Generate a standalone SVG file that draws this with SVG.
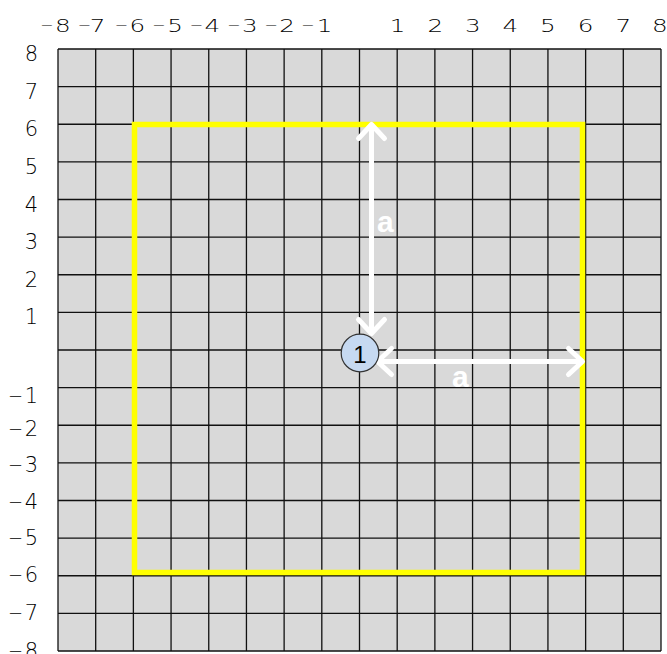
<svg xmlns="http://www.w3.org/2000/svg" width="667" height="654" viewBox="0 0 667 654">
<style>
.grid{stroke:#111;stroke-width:1.3;fill:none}
.tl{font-family:"DejaVu Sans",sans-serif;font-weight:200;font-size:17px;fill:#000;text-anchor:middle}
.m{font-size:11px}
.ll{font-family:"DejaVu Sans",sans-serif;font-weight:200;font-size:21px;fill:#000;text-anchor:end}
.lm{font-size:18px}
.arr{stroke:#fff;stroke-width:5;fill:none;marker-start:url(#chev);marker-end:url(#chev)}
.al{font-family:"Liberation Sans",Arial,sans-serif;font-weight:bold;font-size:30px;fill:#fff}
</style>
<defs>
<marker id="chev" markerUnits="userSpaceOnUse" markerWidth="40" markerHeight="40" viewBox="-20 -20 40 40" refX="0" refY="0" orient="auto-start-reverse" overflow="visible">
<path d="M-14,-13 L0,0 L-14,13" fill="none" stroke="#fff" stroke-width="5" stroke-linecap="round" stroke-linejoin="round"/>
</marker>
</defs>
<rect width="667" height="654" fill="#fff"/>
<g id="grid">
<rect x="58" y="49" width="603" height="602" fill="#d9d9d9"/>
<path class="grid" d="M58,49V651 M95.69,49V651 M133.38,49V651 M171.06,49V651 M208.75,49V651 M246.44,49V651 M284.13,49V651 M321.81,49V651 M359.5,49V651 M397.19,49V651 M434.88,49V651 M472.56,49V651 M510.25,49V651 M547.94,49V651 M585.63,49V651 M623.31,49V651 M661,49V651
M58,49H661 M58,86.63H661 M58,124.25H661 M58,161.88H661 M58,199.5H661 M58,237.13H661 M58,274.75H661 M58,312.38H661 M58,350H661 M58,387.63H661 M58,425.25H661 M58,462.88H661 M58,500.5H661 M58,538.13H661 M58,575.75H661 M58,613.38H661 M58,651H661"/>
</g>
<g id="top-labels">
<text class="tl" transform="matrix(1.45 0 0 1 55.4 32)"><tspan class="m" dy="-3">−</tspan><tspan dx="1" dy="3">8</tspan></text>
<text class="tl" transform="matrix(1.45 0 0 1 91.5 32)"><tspan class="m" dy="-3">−</tspan><tspan dx="-1" dy="3">7</tspan></text>
<text class="tl" transform="matrix(1.45 0 0 1 129.9 32)"><tspan class="m" dy="-3">−</tspan><tspan dx="1" dy="3">6</tspan></text>
<text class="tl" transform="matrix(1.45 0 0 1 167.6 32)"><tspan class="m" dy="-3">−</tspan><tspan dx="1" dy="3">5</tspan></text>
<text class="tl" transform="matrix(1.45 0 0 1 205 32)"><tspan class="m" dy="-3">−</tspan><tspan dx="1" dy="3">4</tspan></text>
<text class="tl" transform="matrix(1.45 0 0 1 242.5 32)"><tspan class="m" dy="-3">−</tspan><tspan dx="1" dy="3">3</tspan></text>
<text class="tl" transform="matrix(1.45 0 0 1 279.8 32)"><tspan class="m" dy="-3">−</tspan><tspan dx="1" dy="3">2</tspan></text>
<text class="tl" transform="matrix(1.45 0 0 1 316.8 32)"><tspan class="m" dy="-3">−</tspan><tspan dx="1.5" dy="3">1</tspan></text>
<text class="tl" transform="matrix(1.45 0 0 1 397.5 32)">1</text>
<text class="tl" transform="matrix(1.45 0 0 1 435.3 32)">2</text>
<text class="tl" transform="matrix(1.45 0 0 1 472.8 32)">3</text>
<text class="tl" transform="matrix(1.45 0 0 1 510.3 32)">4</text>
<text class="tl" transform="matrix(1.45 0 0 1 547.9 32)">5</text>
<text class="tl" transform="matrix(1.45 0 0 1 585.6 32)">6</text>
<text class="tl" transform="matrix(1.45 0 0 1 623.3 32)">7</text>
<text class="tl" transform="matrix(1.45 0 0 1 659.8 32)">8</text>
</g>
<g id="left-labels">
<text class="ll" x="38" y="61">8</text>
<text class="ll" x="38" y="98.6">7</text>
<text class="ll" x="38" y="136.3">6</text>
<text class="ll" x="38" y="173.9">5</text>
<text class="ll" x="38" y="211.5">4</text>
<text class="ll" x="38" y="249.1">3</text>
<text class="ll" x="38" y="286.8">2</text>
<text class="ll" x="38" y="324.4">1</text>
<text class="ll" x="38" y="402.5"><tspan class="lm" dy="-0.8">−</tspan><tspan dx="1.5" dy="0.8">1</tspan></text>
<text class="ll" x="38" y="435.5"><tspan class="lm" dy="-0.8">−</tspan><tspan dx="1.5" dy="0.8">2</tspan></text>
<text class="ll" x="38" y="472"><tspan class="lm" dy="-0.8">−</tspan><tspan dx="1.5" dy="0.8">3</tspan></text>
<text class="ll" x="38" y="508.5"><tspan class="lm" dy="-0.8">−</tspan><tspan dx="1.5" dy="0.8">4</tspan></text>
<text class="ll" x="38" y="545"><tspan class="lm" dy="-0.8">−</tspan><tspan dx="1.5" dy="0.8">5</tspan></text>
<text class="ll" x="38" y="581.7"><tspan class="lm" dy="-0.8">−</tspan><tspan dx="1.5" dy="0.8">6</tspan></text>
<text class="ll" x="38" y="620"><tspan class="lm" dy="-0.8">−</tspan><tspan dx="1.5" dy="0.8">7</tspan></text>
<text class="ll" x="38" y="657.5"><tspan class="lm" dy="-0.8">−</tspan><tspan dx="1.5" dy="0.8">8</tspan></text>
</g>
<g id="square">
<rect x="134.5" y="124.5" width="448" height="448" fill="none" stroke="#ffff00" stroke-width="5.5"/>
</g>
<g id="connectors">
<line class="arr" x1="371.5" y1="124.5" x2="371.5" y2="333.5"/>
<line class="arr" x1="377.5" y1="361.5" x2="582.5" y2="361.5"/>
</g>
<g id="labels">
<text class="al" x="377" y="231.7">a</text>
<text class="al" x="452" y="386.7">a</text>
</g>
<g id="node1">
<circle cx="360" cy="353" r="18.8" fill="#c6d9f1" stroke="#333" stroke-width="1.2"/>
<text x="360" y="362.5" font-family="Liberation Sans,Arial,sans-serif" font-size="24" text-anchor="middle" fill="#000">1</text>
</g>
</svg>
